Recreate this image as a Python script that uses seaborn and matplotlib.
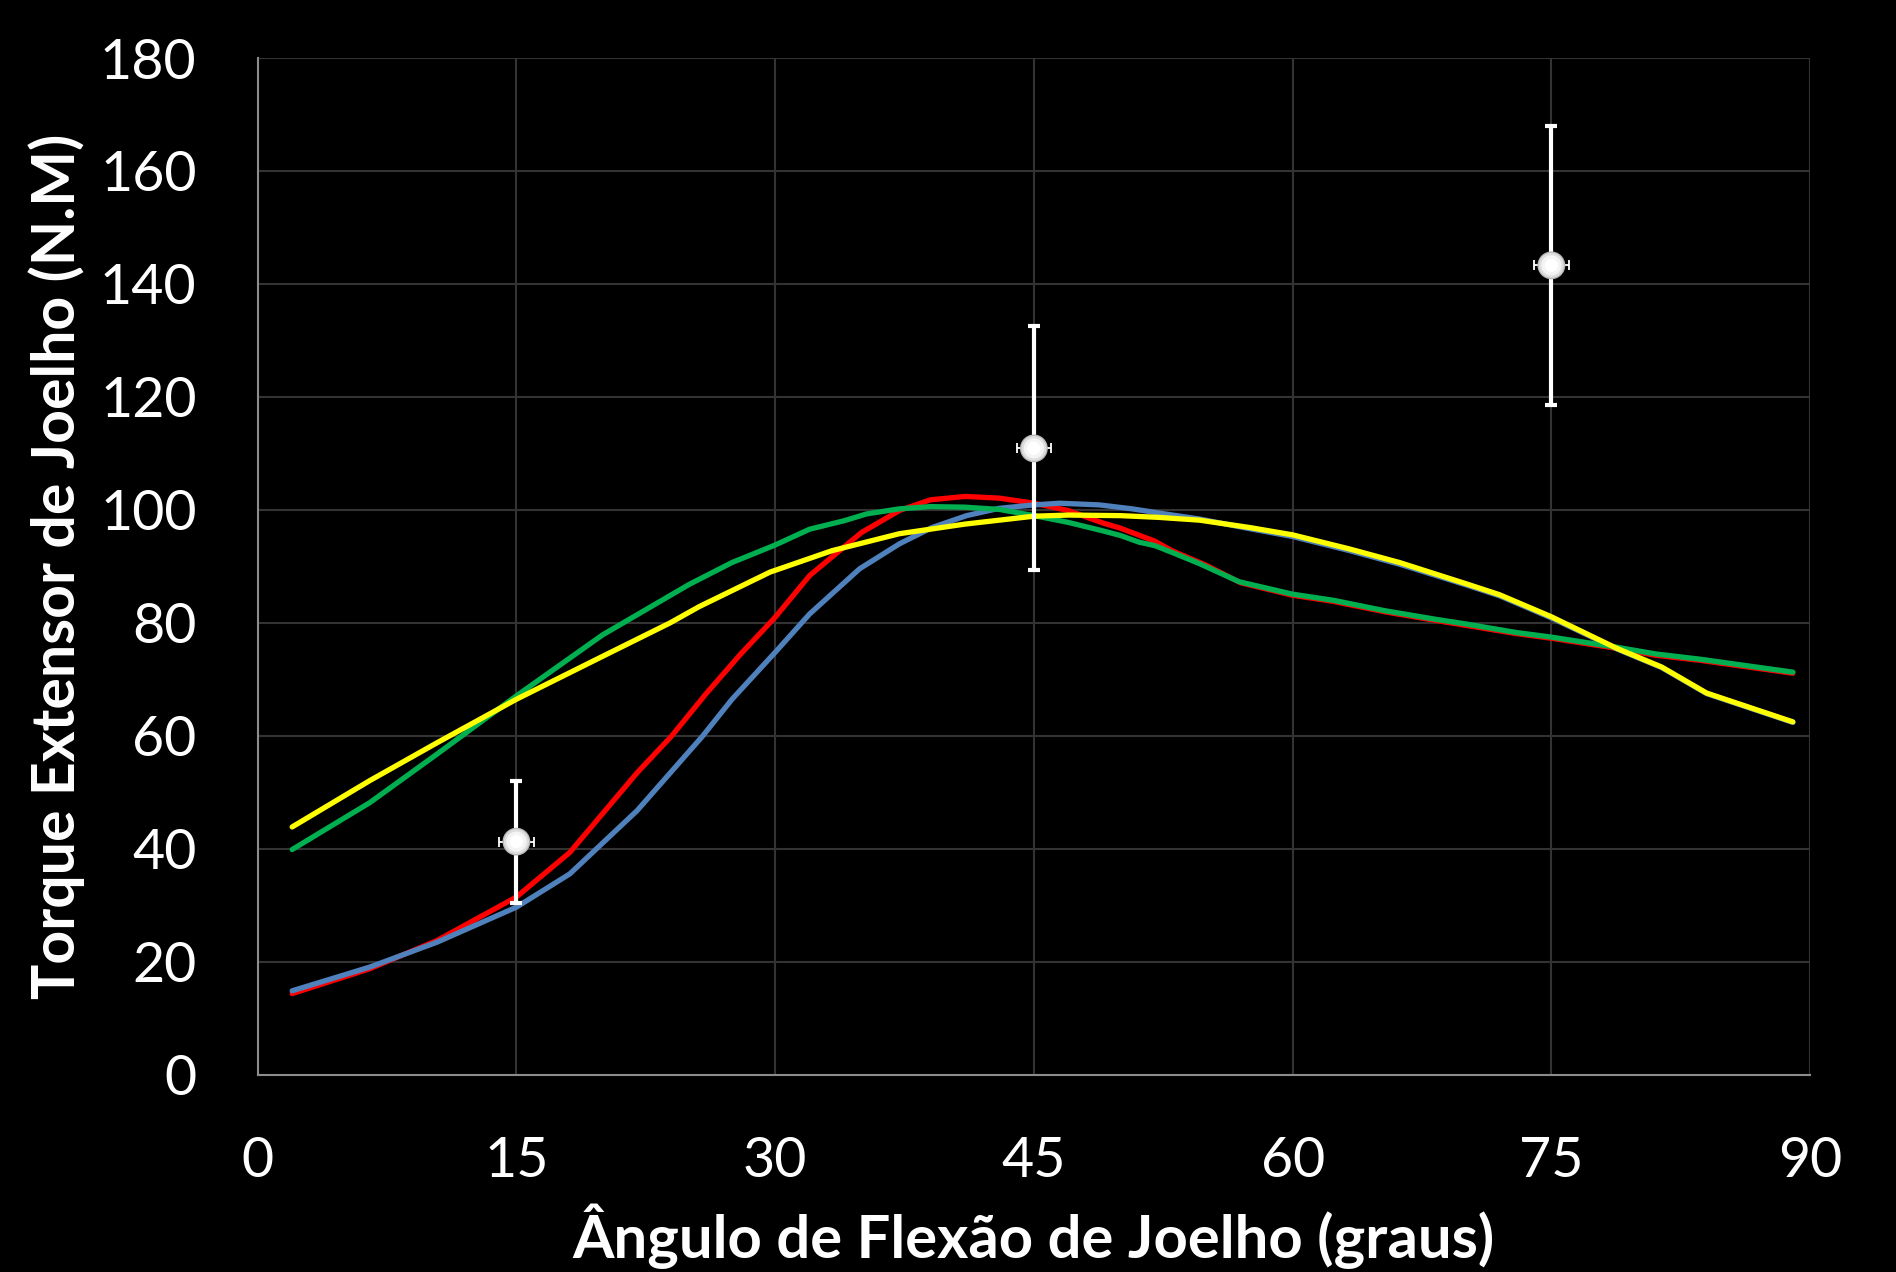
import numpy as np
import pandas as pd
import matplotlib.pyplot as plt
import seaborn as sns

# ── Data ──────────────────────────────────────────────────────────────────────

RED_X = [2, 6.5, 10.4, 15, 18.1, 22, 24, 26, 28, 30, 32, 35, 37.2, 39, 41, 43,
         45, 47, 49, 50, 52, 53, 55, 57, 60, 62.4, 65.3, 68.2, 70, 73, 75, 78.8,
         81, 83.6, 89]
RED_Y = [14.4, 18.8, 23.8, 31.5, 39.4, 53.5, 60, 67.5, 74.5, 81, 88.4, 96, 99.9,
         101.8, 102.4, 102.1, 101.2, 99.9, 97.7, 96.8, 94.5, 92.8, 90.2, 87.1,
         84.9, 83.8, 82.0, 80.5, 79.6, 78.1, 77.3, 75.5, 74.3, 73.4, 71.1]

BLUE_X = [2, 6.5, 10.4, 15, 18.1, 22, 25.8, 27.5, 30, 32, 34.9, 37.2, 39.1, 41.1,
          43, 45, 46.5, 48.8, 50.7, 52.6, 54.6, 57.5, 60, 63.3, 66.2, 70.1, 72,
          75, 78.8, 81.4, 84, 89]
BLUE_Y = [14.9, 19.1, 23.5, 29.7, 35.6, 46.8, 60, 66.5, 74.8, 81.6, 89.6, 94,
          96.9, 99, 100.3, 100.9, 101.2, 100.9, 100.2, 99.3, 98.4, 96.7, 95.3,
          92.8, 90.4, 86.7, 84.8, 80.9, 75.4, 72.1, 67.5, 62.4]

GREEN_X = [2, 4.6, 6.5, 10.4, 15, 20, 25, 27.5, 30, 32, 34, 35.3, 37.2, 39, 41,
           43, 45, 47, 49, 50, 51.1, 52, 53, 54.6, 56.9, 60, 62.4, 65.3, 68.2,
           70.1, 73, 75, 78.8, 81.1, 83.6, 89]
GREEN_Y = [39.9, 44.7, 48.2, 56.8, 67.1, 77.9, 86.8, 90.7, 93.8, 96.6, 98.1,
           99.3, 100.2, 100.6, 100.5, 100.1, 99, 97.8, 96.3, 95.5, 94.3, 93.7,
           92.5, 90.5, 87.3, 85.1, 84, 82.2, 80.7, 79.8, 78.3, 77.5, 75.7, 74.5,
           73.6, 71.3]

YELLOW_X = [2, 6.5, 10.4, 15, 20, 23.9, 25.6, 29.7, 33.3, 37.2, 41, 45, 47, 50,
            52.2, 54.6, 57.5, 60, 63.3, 66.2, 70.1, 72, 75, 78.8, 81.4, 84, 89]
YELLOW_Y = [43.9, 52.1, 58.8, 66.5, 74.1, 80, 82.9, 89, 92.8, 95.8, 97.5, 98.9,
            99.1, 99, 98.7, 98.2, 96.9, 95.6, 93.1, 90.7, 86.9, 85, 81.1, 75.5,
            72.2, 67.6, 62.5]

POINT_X = [15, 45, 75]
POINT_Y = [41.3, 110.9, 143.3]
POINT_YERR = [10.8, 21.6, 24.7]
POINT_XERR = [1.0, 1.0, 1.0]

X_TICKS = [0, 15, 30, 45, 60, 75, 90]
Y_TICKS = list(range(0, 181, 20))

COLORS = {"red": "#FF0000", "blue": "#4F81BD", "green": "#00B050", "yellow": "#FFFF00"}

# ── Build long-form table ─────────────────────────────────────────────────────

frames = []
for name, xs, ys in [("red", RED_X, RED_Y), ("blue", BLUE_X, BLUE_Y),
                     ("green", GREEN_X, GREEN_Y), ("yellow", YELLOW_X, YELLOW_Y)]:
    frames.append(pd.DataFrame({"angle": xs, "torque": ys, "serie": name}))
curves = pd.concat(frames, ignore_index=True)

# ── Plot ──────────────────────────────────────────────────────────────────────

sns.set_style("dark", {"axes.facecolor": "black", "figure.facecolor": "black"})
plt.rcParams["font.family"] = ["Lato", "DejaVu Sans"]

fig = plt.figure(figsize=(18.96, 12.72), dpi=100)
fig.patch.set_facecolor("black")
ax = fig.add_axes([0.1359, 0.1549, 0.8188, 0.7995])
ax.set_facecolor("black")

sns.lineplot(data=curves, x="angle", y="torque", hue="serie",
             hue_order=["red", "blue", "green", "yellow"], palette=COLORS,
             estimator=None, sort=True, linewidth=3.8, legend=False, ax=ax,
             zorder=3, solid_joinstyle="round", solid_capstyle="round")

# horizontal (thin) and vertical (thick) error bars
ax.errorbar(POINT_X, POINT_Y, xerr=POINT_XERR, fmt="none", ecolor="white",
            elinewidth=1.3, capsize=3.5, capthick=1.3, zorder=5)
ax.errorbar(POINT_X, POINT_Y, yerr=POINT_YERR, fmt="none", ecolor="white",
            elinewidth=3.0, capsize=4.5, capthick=3.0, zorder=5)

# shaded "sphere" markers
ax.scatter(POINT_X, POINT_Y, s=20 ** 2, color="#b8b8b8", edgecolors="none", zorder=6)
ax.scatter(POINT_X, POINT_Y, s=18 ** 2, color="#dedede", edgecolors="none", zorder=7)
ax.scatter(POINT_X, POINT_Y, s=14.5 ** 2, color="#f4f4f4", edgecolors="none", zorder=8)
ax.scatter(POINT_X, POINT_Y, s=9.5 ** 2, color="white", edgecolors="none", zorder=9)

ax.set_xlim(0, 90)
ax.set_ylim(0, 180)
ax.set_xticks(X_TICKS)
ax.set_yticks(Y_TICKS)
ax.tick_params(axis="both", length=0, labelsize=40, labelcolor="white", pad=44)

ax.grid(True, color="#333333", linewidth=1.5)
ax.set_axisbelow(True)
for side in ["top", "right"]:
    ax.spines[side].set_visible(False)
for side in ["left", "bottom"]:
    ax.spines[side].set_visible(True)
    ax.spines[side].set_color("#8c8c8c")
    ax.spines[side].set_linewidth(1.5)

ax.set_xlabel("Ângulo de Flexão de Joelho (graus)", fontsize=43,
              fontweight="bold", color="white")
ax.set_ylabel("Torque Extensor de Joelho (N.M)", fontsize=42.5,
              fontweight="bold", color="white")
ax.xaxis.label.set_va("baseline")
ax.xaxis.set_label_coords(0.5, -0.180)
ax.yaxis.label.set_va("center")
ax.yaxis.set_label_coords(-0.1292, 0.5)

fig.savefig("out.png", dpi=100, facecolor="black")
